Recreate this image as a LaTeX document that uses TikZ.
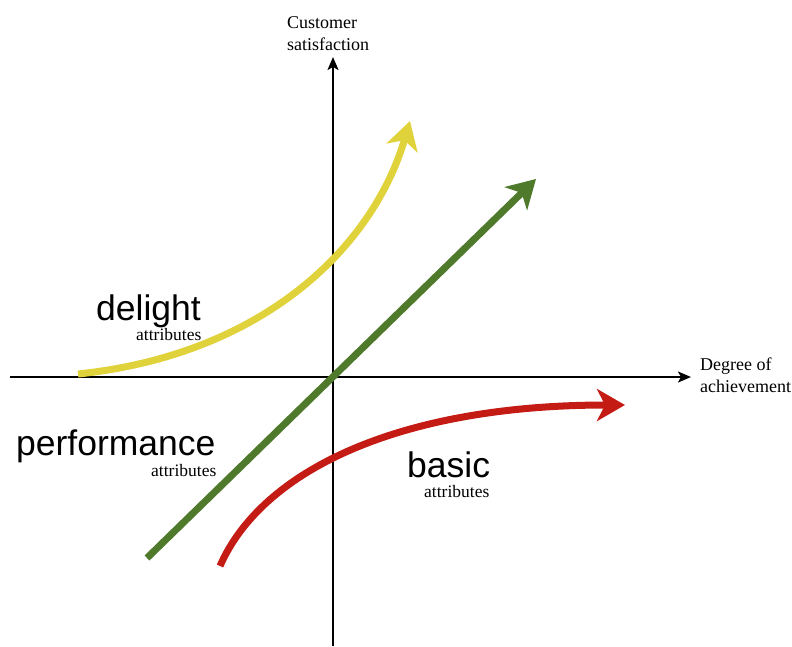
\documentclass[tikz,border=0pt]{standalone}
\usepackage{fontspec}
\setmainfont{Liberation Serif}
\setsansfont{Liberation Sans}
\usetikzlibrary{arrows.meta}
\definecolor{cyellow}{HTML}{DFD23A}
\definecolor{cgreen}{HTML}{4F7A2B}
\definecolor{cred}{HTML}{C41C15}
\begin{document}
\begin{tikzpicture}[x=1pt,y=-1pt,
  axis/.style={line width=2pt,-{Stealth[length=13pt,width=11pt,inset=3pt]}},
  curve/.style={line width=7pt,-{Stealth[length=28pt,width=32pt,inset=8pt]}},
  big/.style={font=\sffamily\fontsize{35.5}{40}\selectfont,inner sep=0pt,anchor=base west},
  small/.style={font=\fontsize{17.5}{20}\selectfont,inner sep=0pt,anchor=base west},
  axlabel/.style={font=\fontsize{18}{22}\selectfont,inner sep=0pt,align=left}]
\useasboundingbox (0,0) rectangle (792,646);
% axes
\coordinate (xs) at (10,377);
\coordinate (xe) at (691,377);
\coordinate (ys) at (333,646);
\coordinate (ye) at (333,57);
\draw[axis] (xs) -- (xe);
\draw[axis] (ys) -- (ye);
\node[axlabel,anchor=south west] (ylab) at (287,51) {Customer\\satisfaction};
\node[axlabel,anchor=north west] (xlab) at (700,358) {Degree of\\achievement};
% curves
\coordinate (d0) at (78,374);
\coordinate (d1) at (410,121);
\draw[curve,cyellow,line cap=butt] (d0) .. controls (260,355) and (372,250) .. (d1);
\coordinate (p0) at (147,558);
\coordinate (p1) at (536,179);
\draw[curve,cgreen] (p0) -- (p1);
\coordinate (b0) at (220,566);
\coordinate (b1) at (625,405);
\draw[curve,cred] (b0) .. controls (262,470) and (400,405) .. (b1);
% labels
\node[big] (delight) at (96,320) {delight};
\node[small] (delighta) at (136,340) {attributes};
\node[big] (perf) at (16,455) {performance};
\node[small] (perfa) at (151,476) {attributes};
\node[big] (basic) at (407,477) {basic};
\node[small] (basica) at (424,497) {attributes};
\end{tikzpicture}
\end{document}
